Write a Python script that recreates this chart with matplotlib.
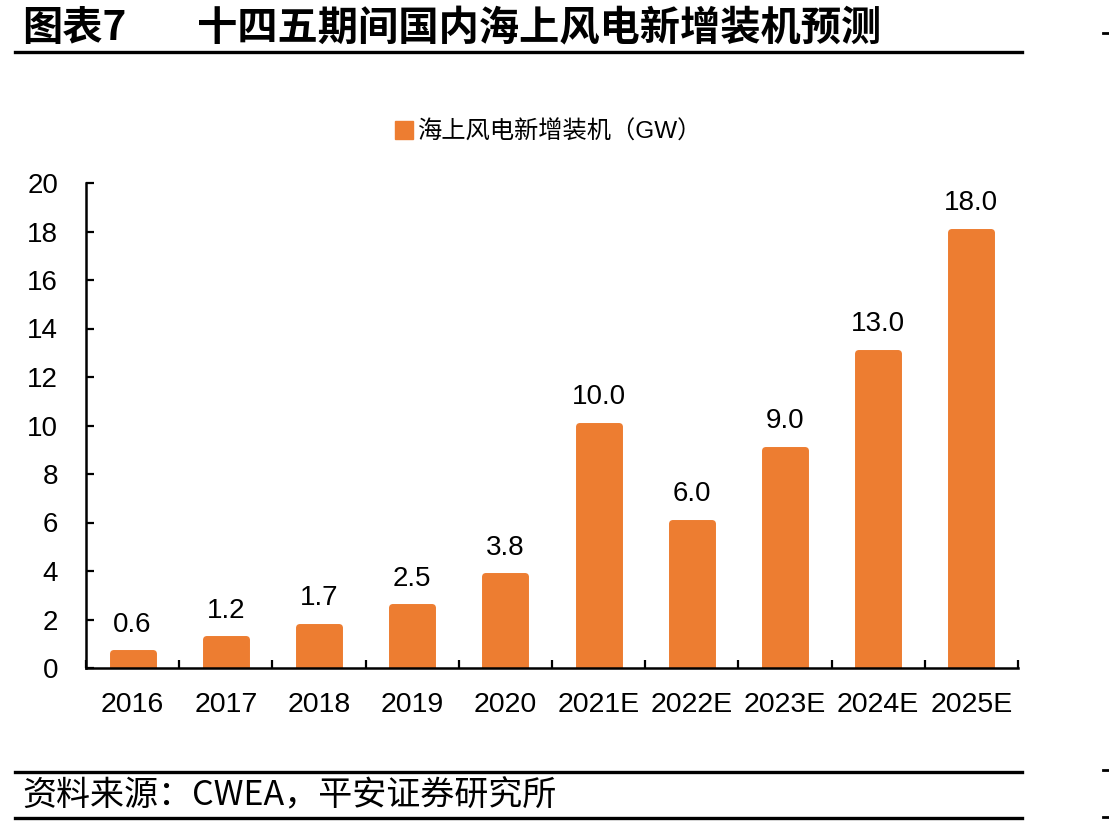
import matplotlib
matplotlib.use("Agg")
import matplotlib.pyplot as plt
from matplotlib.lines import Line2D
from matplotlib.patches import Patch

categories = ["2016", "2017", "2018", "2019", "2020", "2021E", "2022E", "2023E", "2024E", "2025E"]
values = [0.6, 1.2, 1.7, 2.5, 3.8, 10.0, 6.0, 9.0, 13.0, 18.0]
labels = ["0.6", "1.2", "1.7", "2.5", "3.8", "10.0", "6.0", "9.0", "13.0", "18.0"]
yticks = [0, 2, 4, 6, 8, 10, 12, 14, 16, 18, 20]
series_name = "海上风电新增装机（GW）"
title_left = "图表7"
title_right = "十四五期间国内海上风电新增装机预测"
source = "资料来源：CWEA，平安证券研究所"

orange = "#ED7D31"
fam = ["Liberation Sans", "Noto Sans CJK SC", "DejaVu Sans"]
plt.rcParams["font.family"] = fam

W, H = 1109, 827
fig = plt.figure(figsize=(W / 100, H / 100), dpi=100)
ax = fig.add_axes([86 / W, 1 - 668 / H, (1018 - 86) / W, (668 - 183) / H])

x = list(range(len(categories)))
bars = ax.bar(x, values, width=0.43, color=orange, edgecolor=orange,
              linewidth=5, joinstyle="round", zorder=2)
for xi, v, lab in zip(x, values, labels):
    ax.annotate(lab, (xi, v), xytext=(0, 11), textcoords="offset points",
                ha="center", va="bottom", fontsize=20, family=fam)

ax.set_xlim(-0.5, len(categories) - 0.5)
ax.set_ylim(0, 20)
ax.set_yticks(yticks)
ax.set_yticklabels([str(t) for t in yticks], fontsize=20)
ax.set_xticks(x)
ax.set_xticklabels(categories, fontsize=20.5)
ax.set_xticks([i + 0.5 for i in range(-1, len(categories))], minor=True)
ax.tick_params(axis="x", which="major", length=0, pad=17)
ax.tick_params(axis="x", which="minor", direction="in", length=6, width=1.6)
ax.tick_params(axis="y", direction="in", length=6, width=1.6, pad=20)
for s in ["top", "right"]:
    ax.spines[s].set_visible(False)
for s in ["left", "bottom"]:
    ax.spines[s].set_linewidth(1.8)
    ax.spines[s].set_zorder(3)

handle = Patch(facecolor=orange, edgecolor=orange, joinstyle="round")
fig.legend([handle], [series_name], loc="center",
           bbox_to_anchor=(548 / W, 1 - 132 / H), frameon=False,
           fontsize=17.5, handlelength=0.75, handleheight=0.75, handletextpad=0.15)

# title
fig.text(22 / W, 1 - 29 / H, title_left, fontsize=29, fontweight="bold",
         va="center", ha="left", family=["Noto Sans CJK SC", "DejaVu Sans"])
fig.text(197 / W, 1 - 29 / H, title_right, fontsize=29, fontweight="bold",
         va="center", ha="left", family=["Noto Sans CJK SC", "DejaVu Sans"])

# rules
def hline(y, x0=15, x1=1022, lw=2.4):
    fig.add_artist(Line2D([x0 / W, x1 / W], [1 - y / H, 1 - y / H], color="black", lw=lw))

hline(51.5)
hline(771.5)
hline(818)
for y in (33, 770, 817):
    hline(y, 1103, 1109, lw=2)

fig.text(22 / W, 1 - 796 / H, source, fontsize=24.5, style="italic",
         va="center", ha="left", family=["Noto Sans CJK SC", "Liberation Sans", "DejaVu Sans"])

fig.savefig("out.png", dpi=100)
